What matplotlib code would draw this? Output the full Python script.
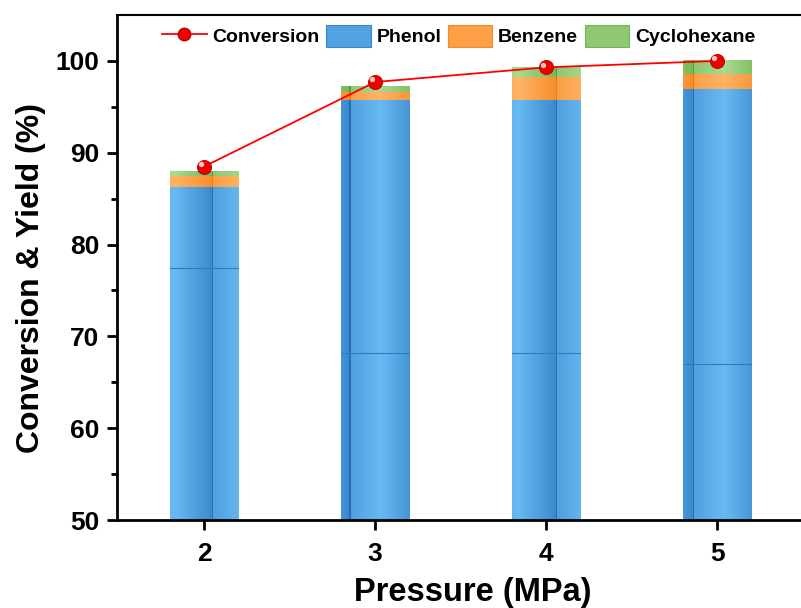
import numpy as np
import matplotlib
matplotlib.use("Agg")
import matplotlib.pyplot as plt
import matplotlib.transforms as mtrans
from matplotlib.lines import Line2D
from matplotlib.patches import Patch
from matplotlib.colors import to_rgb

plt.rcParams['font.family'] = ['Liberation Sans', 'DejaVu Sans']
plt.rcParams['font.weight'] = 'bold'

pressure = [2, 3, 4, 5]
phenol = [86.3, 95.7, 95.7, 96.9]
benzene = [1.2, 0.9, 2.5, 1.65]
cyclohexane = [0.5, 0.6, 1.0, 1.45]
conversion = [88.5, 97.7, 99.3, 100.0]
phenol_seam = [77.5, 68.2, 68.2, 67.0]

# (dark, light, line) for the Origin-like gradient fill
styles = {
    "Phenol": ("#3c88cc", "#68baf3", "#2470b8"),
    "Benzene": ("#f68e2c", "#ffb466", "#ee7a10"),
    "Cyclohexane": ("#76b857", "#a8da90", "#5a9e3c"),
}

W = 0.40
PERIOD = 0.4018
X0 = 2.047


def shade(xs, dark, light, line):
    d, l, ln = np.array(to_rgb(dark)), np.array(to_rgb(light)), np.array(to_rgb(line))
    t = ((xs - X0) / PERIOD) % 1.0
    v = np.where(t < 0.45, 0.45 + 0.55 * t / 0.45, 1.0 - (t - 0.45) / 0.55)
    cols = d[None, :] + (l - d)[None, :] * v[:, None]
    on_line = (t < 0.012) | (t > 0.993)
    cols[on_line] = ln
    return cols


def grad_bar(ax, xc, y0, y1, name):
    xs = np.linspace(xc - W / 2, xc + W / 2, 300)
    cols = shade(xs, *styles[name])
    ax.imshow(cols[None, :, :], extent=(xc - W / 2, xc + W / 2, y0, y1),
              aspect='auto', interpolation='nearest', zorder=2)


fig = plt.figure(figsize=(8.01, 6.08), dpi=100)
# the axes runs a little past the right edge of the figure, as in the original
ax = fig.add_axes([0.146, 0.1447, 0.889, 0.8306])

for i, x in enumerate(pressure):
    b1 = phenol[i]
    b2 = b1 + benzene[i]
    b3 = b2 + cyclohexane[i]
    grad_bar(ax, x, 50, b1, "Phenol")
    grad_bar(ax, x, b1, b2, "Benzene")
    grad_bar(ax, x, b2, b3, "Cyclohexane")
    ax.plot([x - W / 2, x + W / 2], [phenol_seam[i]] * 2, color="#2e7cc0",
            lw=0.8, zorder=3)

ax.plot(pressure, conversion, '-', color='red', lw=1.3, zorder=4)
ax.plot(pressure, conversion, 'o', color='#ee0000', mec='#c80000', ms=10,
        mew=0.8, zorder=5)
shift = ax.transData + mtrans.ScaledTranslation(-2.0 / 72, 2.0 / 72,
                                                 fig.dpi_scale_trans)
ax.plot(pressure, conversion, 'o', color='#ffc8c8', ms=3.8, mew=0,
        zorder=6, transform=shift)

ax.set_xlim(1.49, 5.655)
ax.set_ylim(50, 105)
ax.set_xticks(pressure)
ax.set_yticks([50, 60, 70, 80, 90, 100])
ax.set_yticks(np.arange(55, 105, 10), minor=True)

for s in ['left', 'bottom']:
    ax.spines[s].set_linewidth(2.0)
ax.spines['top'].set_linewidth(1.5)
ax.spines['right'].set_visible(False)

ax.tick_params(axis='both', which='major', direction='out', length=7.5,
               width=2.0, labelsize=19)
ax.tick_params(axis='x', which='major', pad=8)
ax.tick_params(axis='y', which='major', pad=5)
ax.tick_params(axis='y', which='minor', direction='out', length=4.5, width=2.0)
ax.tick_params(axis='x', which='both', top=False)
for lab in ax.get_xticklabels() + ax.get_yticklabels():
    lab.set_fontweight('bold')

ax.set_xlabel("Pressure (MPa)", fontsize=23.5, fontweight='bold')
ax.set_ylabel("Conversion & Yield (%)", fontsize=23, fontweight='bold')
ax.xaxis.set_label_coords(0.5, -0.112)
ax.yaxis.set_label_coords(-0.1, 0.48)

handles = [
    Line2D([0], [0], color='red', lw=1.3, marker='o', mfc='#ee0000',
           mec='#c80000', ms=9),
    Patch(facecolor="#52a2e2", edgecolor="#3a86ca", lw=0.8),
    Patch(facecolor="#fda048", edgecolor="#f58c2a", lw=0.8),
    Patch(facecolor="#8ec872", edgecolor="#74b655", lw=0.8),
]
ax.legend(handles, ["Conversion", "Phenol", "Benzene", "Cyclohexane"],
          loc='upper center', bbox_to_anchor=(0.48, 1.0), ncol=4, frameon=False,
          prop={'size': 14, 'weight': 'bold'}, handlelength=2.27,
          handleheight=1.4, handletextpad=0.3, columnspacing=0.35,
          borderaxespad=0.1)

fig.savefig("out.png", dpi=100)
